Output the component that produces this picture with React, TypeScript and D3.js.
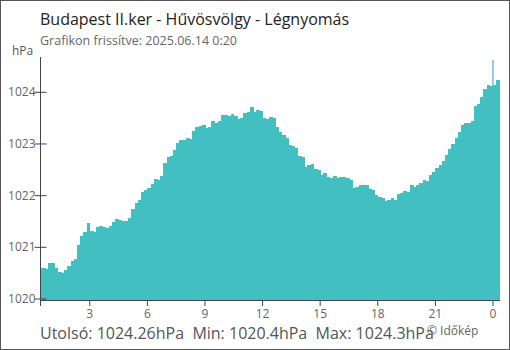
import React from "react";
import * as d3 from "d3";

const TITLE = "Budapest II.ker - Hűvösvölgy - Légnyomás";
const SUBTITLE = "Grafikon frissítve: 2025.06.14 0:20";
const UNIT = "hPa";
const FOOTER = "Utolsó: 1024.26hPa  Min: 1020.4hPa  Max: 1024.3hPa";
const CREDIT = "© Időkép";

const yTicks = [1020, 1021, 1022, 1023, 1024];
const firstBarEnd = new Date(2025, 5, 13, 0, 30);
const stepMinutes = 10;

const pressure = [
  1020.60, 1020.60, 1020.58, 1020.70, 1020.69, 1020.60, 1020.52, 1020.51, 1020.56, 1020.64,
  1020.74, 1020.77, 1021.04, 1021.22, 1021.30, 1021.47, 1021.31, 1021.30, 1021.39, 1021.41,
  1021.39, 1021.37, 1021.41, 1021.49, 1021.55, 1021.53, 1021.51, 1021.51, 1021.57, 1021.74,
  1021.86, 1021.91, 1022.07, 1022.11, 1022.14, 1022.22, 1022.32, 1022.30, 1022.38, 1022.63,
  1022.74, 1022.76, 1022.88, 1023.01, 1023.07, 1023.07, 1023.11, 1023.09, 1023.25, 1023.32,
  1023.34, 1023.36, 1023.30, 1023.32, 1023.45, 1023.41, 1023.44, 1023.56, 1023.56, 1023.54,
  1023.58, 1023.54, 1023.48, 1023.50, 1023.59, 1023.61, 1023.72, 1023.61, 1023.65, 1023.63,
  1023.50, 1023.49, 1023.52, 1023.50, 1023.33, 1023.23, 1023.17, 1023.11, 1022.98, 1022.96,
  1022.93, 1022.76, 1022.75, 1022.56, 1022.60, 1022.62, 1022.51, 1022.49, 1022.40, 1022.44,
  1022.36, 1022.35, 1022.38, 1022.35, 1022.36, 1022.36, 1022.35, 1022.30, 1022.14, 1022.17,
  1022.20, 1022.21, 1022.20, 1022.12, 1022.11, 1022.02, 1021.98, 1021.95, 1021.89, 1021.91,
  1021.95, 1021.91, 1022.04, 1022.06, 1022.09, 1022.07, 1022.20, 1022.16, 1022.21, 1022.25,
  1022.31, 1022.29, 1022.40, 1022.45, 1022.54, 1022.59, 1022.68, 1022.78, 1022.91, 1022.99,
  1023.12, 1023.23, 1023.36, 1023.41, 1023.40, 1023.44, 1023.74, 1023.78, 1023.91, 1024.06,
  1024.14, 1024.12, 1024.14, 1024.24,
];

const W = 510;
const H = 350;
const FONT = "'Open Sans', 'Noto Sans', sans-serif";
const BAR = "#41bfc1";
const AXIS = "#444";

export default function App() {
  const left = 40.5;
  const right = 500;
  const bottom = 300;
  const top = 57;

  const x = d3
    .scaleTime()
    .domain([new Date(2025, 5, 13, 0, 26), new Date(2025, 5, 14, 0, 22)])
    .range([left, right]);
  const y = d3.scaleLinear().domain([1020, 1024]).range([299, 92.3]);

  const bars = pressure.map((v, i) => {
    const end = d3.timeMinute.offset(firstBarEnd, stepMinutes * i);
    const start = d3.timeMinute.offset(end, -stepMinutes);
    const x0 = Math.max(x(start), left);
    const x1 = x(end);
    return { x0, x1, v };
  });

  const xTicks = x.ticks(d3.timeHour.every(3) as any);
  const midnight = new Date(2025, 5, 14, 0, 0);

  return (
    <svg
      width={W}
      height={H}
      style={{ position: "absolute", left: 0, top: 0, background: "#fff" }}
      fontFamily={FONT}
    >
      <rect x={0.5} y={0.5} width={W - 1} height={H - 1} fill="#fff" stroke="#555" />
      <text x={40} y={25} fontSize={16} fill="#222">{TITLE}</text>
      <text x={40} y={45} fontSize={12.5} fill="#666">{SUBTITLE}</text>
      <text x={12} y={55} fontSize={12} fill="#555">{UNIT}</text>

      {/* midnight marker */}
      <line x1={x(midnight)} x2={x(midnight)} y1={60} y2={306} stroke="#3d8fd6" strokeWidth={1} />

      <g shapeRendering="crispEdges">
        {bars.map((b, i) => (
          <rect
            key={i}
            x={b.x0}
            y={y(b.v)}
            width={Math.max(0, b.x1 - b.x0 + 0.6)}
            height={bottom - y(b.v)}
            fill={BAR}
          />
        ))}
      </g>

      {/* y axis */}
      <line x1={left} x2={left} y1={top} y2={306} stroke={AXIS} />
      {yTicks.map((t) => (
        <g key={t}>
          <line x1={left - 6} x2={left + 6} y1={y(t)} y2={y(t)} stroke={AXIS} />
          <text x={left - 5} y={y(t) + 4} fontSize={12} fill="#666" textAnchor="end">
            {d3.format("d")(t)}
          </text>
        </g>
      ))}

      {/* x axis */}
      <line x1={left} x2={right} y1={bottom + 0.5} y2={bottom + 0.5} stroke={AXIS} />
      {xTicks.map((t, i) => {
        const isMid = t.getHours() === 0;
        return (
          <g key={i}>
            <line
              x1={x(t)}
              x2={x(t)}
              y1={bottom}
              y2={306}
              stroke={isMid ? "#3d8fd6" : AXIS}
            />
            <text x={x(t)} y={318} fontSize={12} fill="#666" textAnchor="middle">
              {d3.timeFormat("%-H")(t)}
            </text>
          </g>
        );
      })}

      <text x={40} y={339} fontSize={16} fill="#555" style={{ whiteSpace: "pre" }}>
        {FOOTER}
      </text>
      <text x={427} y={335} fontSize={12} fill="#666">{CREDIT}</text>
    </svg>
  );
}
